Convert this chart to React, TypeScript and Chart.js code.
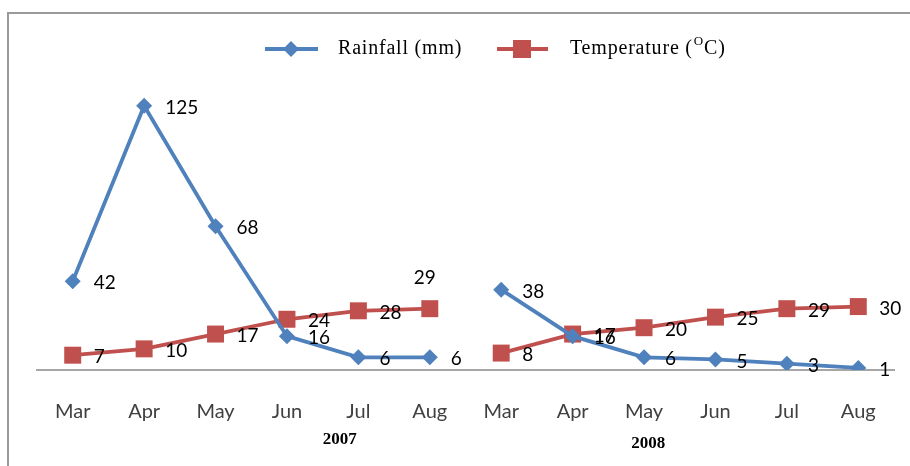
import React, { useEffect, useRef } from "react";
import { Chart, registerables } from "chart.js";

Chart.register(...registerables);

const months = ["Mar", "Apr", "May", "Jun", "Jul", "Aug", "Mar", "Apr", "May", "Jun", "Jul", "Aug"];
const years = ["2007", "2008"];
const rainfall = [42, 125, 68, 16, 6, 6, 38, 16, 6, 5, 3, 1];
const temperature = [7, 10, 17, 24, 28, 29, 8, 17, 20, 25, 29, 30];

const BLUE = "#4F81BD";
const RED = "#C0504D";

const decorPlugin = {
  id: "decor",
  afterDraw(chart: any) {
    const ctx = chart.ctx;
    const xs = chart.scales.x;
    ctx.save();
    // frame lines (top, left)
    ctx.strokeStyle = "#9a9a9a";
    ctx.lineWidth = 2;
    ctx.beginPath();
    ctx.moveTo(7, 13);
    ctx.lineTo(910, 13);
    ctx.moveTo(8, 13);
    ctx.lineTo(8, 466);
    ctx.stroke();

    // data labels
    ctx.fillStyle = "#000";
    ctx.font = "19px Lato";
    ctx.textBaseline = "middle";
    chart.data.datasets.forEach((ds: any, di: number) => {
      const meta = chart.getDatasetMeta(di);
      meta.data.forEach((pt: any, i: number) => {
        const txt = String(ds.data[i]);
        if (di === 1 && i === 5) {
          ctx.textAlign = "center";
          ctx.fillText(txt, pt.x - 5, pt.y - 31);
        } else {
          ctx.textAlign = "left";
          ctx.fillText(txt, pt.x + 21, pt.y + 2);
        }
      });
    });

    // year labels
    ctx.font = "bold 17px 'Liberation Serif'";
    ctx.textAlign = "center";
    ctx.fillStyle = "#000";
    ctx.fillText(years[0], xs.getPixelForValue(3.74), 440);
    ctx.fillText(years[1], xs.getPixelForValue(8.06), 444);

    // legend
    const ly = 49;
    ctx.lineWidth = 4;
    ctx.strokeStyle = BLUE;
    ctx.beginPath();
    ctx.moveTo(265, ly);
    ctx.lineTo(318, ly);
    ctx.stroke();
    ctx.fillStyle = BLUE;
    ctx.beginPath();
    ctx.moveTo(291, ly - 8);
    ctx.lineTo(299, ly);
    ctx.lineTo(291, ly + 8);
    ctx.lineTo(283, ly);
    ctx.closePath();
    ctx.fill();

    ctx.strokeStyle = RED;
    ctx.beginPath();
    ctx.moveTo(497, ly);
    ctx.lineTo(548, ly);
    ctx.stroke();
    ctx.fillStyle = RED;
    ctx.fillRect(513, ly - 9, 18, 18);

    ctx.fillStyle = "#000";
    ctx.textAlign = "left";
    (ctx as any).letterSpacing = "0.8px";
    ctx.font = "20px 'Liberation Serif'";
    ctx.fillText("Rainfall (mm)", 338, ly);
    let x = 570;
    const t1 = "Temperature (";
    ctx.fillText(t1, x, ly);
    x += ctx.measureText(t1).width;
    ctx.font = "13px 'Liberation Serif'";
    ctx.fillText("O", x + 1, ly - 7);
    x += ctx.measureText("O").width + 1;
    ctx.font = "20px 'Liberation Serif'";
    ctx.fillText("C)", x, ly);
    ctx.restore();
  },
};

export default function App() {
  const ref = useRef<HTMLCanvasElement>(null);
  useEffect(() => {
    const gap = (color: string) => (c: any) => (c.p0DataIndex === 5 ? "rgba(0,0,0,0)" : color);
    const chart = new Chart(ref.current!, {
      type: "line",
      data: {
        labels: months,
        datasets: [
          {
            label: "Rainfall (mm)",
            data: rainfall,
            borderColor: BLUE,
            backgroundColor: BLUE,
            borderWidth: 3.8,
            pointStyle: "rectRot",
            pointRadius: 8,
            pointBorderWidth: 0,
            tension: 0,
            segment: { borderColor: gap(BLUE) },
          },
          {
            label: "Temperature (°C)",
            data: temperature,
            borderColor: RED,
            backgroundColor: RED,
            borderWidth: 3.8,
            pointStyle: "rect",
            pointRadius: 12,
            pointBorderWidth: 0,
            tension: 0,
            segment: { borderColor: gap(RED) },
          },
        ],
      },
      options: {
        animation: false,
        responsive: false,
        layout: { padding: { left: 37, right: 16, top: 74, bottom: 12 } },
        plugins: { legend: { display: false }, tooltip: { enabled: false } },
        scales: {
          y: { display: false, min: 0, max: 140 },
          x: {
            offset: true,
            grid: { display: false, drawTicks: false },
            border: { display: true, color: "#a6a6a6", width: 2 },
            ticks: { font: { family: "Lato", size: 20 }, color: "#404040", padding: 30, maxRotation: 0, autoSkip: false },
          },
        },
      },
      plugins: [decorPlugin],
    });
    return () => chart.destroy();
  }, []);
  return (
    <div style={{ position: "fixed", left: 0, top: 0, width: 910, height: 466, background: "#fff" }}>
      <canvas ref={ref} width={910} height={466} style={{ display: "block" }} />
    </div>
  );
}
